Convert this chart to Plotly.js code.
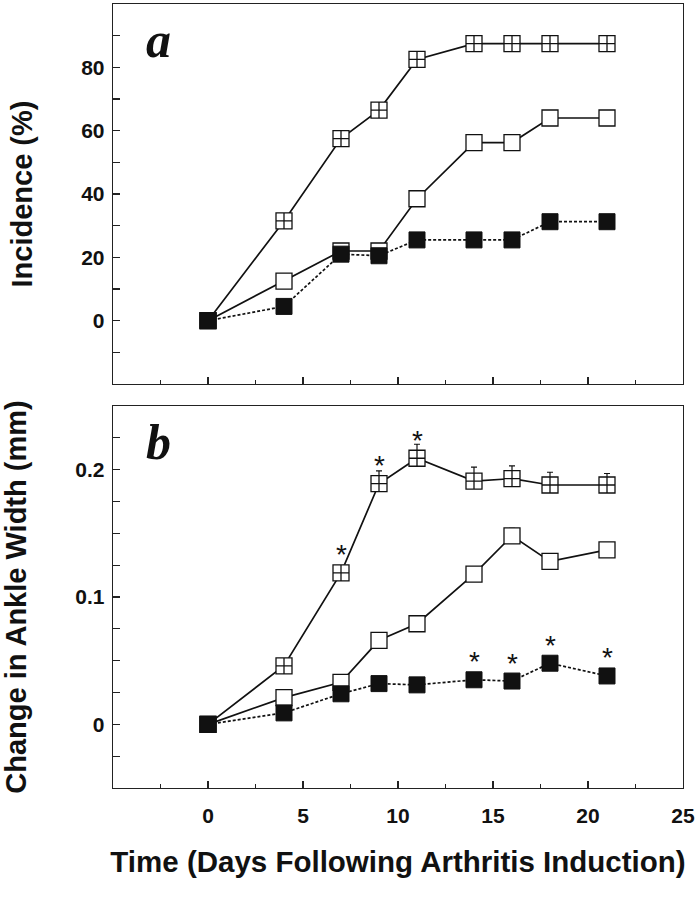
<!DOCTYPE html>
<html>
<head>
<meta charset="utf-8">
<script src="https://cdn.plot.ly/plotly-3.0.1.min.js"></script>
<style>html,body{margin:0;padding:0;background:#fff;}#chart{width:695px;height:899px;}</style>
</head>
<body>
<div id="chart"></div>
<script>
// ---- data ----
var days = [0, 4, 7, 9, 11, 14, 16, 18, 21];

// panel a: incidence (%)
var incCross  = [0, 31.5, 57.5, 66.5, 82.5, 87.5, 87.5, 87.5, 87.5];
var incOpen   = [0, 12.5, 22, 22, 38.5, 56.25, 56.25, 64, 64];
var incFilled = [0, 4.5, 21, 20.5, 25.5, 25.5, 25.5, 31.25, 31.25];

// panel b: change in ankle width (mm)
var ankCross     = [0, 0.046, 0.119, 0.189, 0.209, 0.191, 0.193, 0.188, 0.188];
var ankCrossErr  = [0, 0, 0.003, 0.010, 0.011, 0.011, 0.010, 0.010, 0.009];
var ankOpen      = [0, 0.021, 0.033, 0.066, 0.079, 0.118, 0.148, 0.128, 0.137];
var ankOpenErr   = [0, 0, 0, 0, 0, 0, 0.006, 0.002, 0.003];
var ankFilled    = [0, 0.009, 0.024, 0.032, 0.031, 0.035, 0.034, 0.048, 0.038];
var sigCross     = [0, 0, 1, 1, 1, 0, 0, 0, 0];
var sigFilled    = [0, 0, 0, 0, 0, 1, 1, 1, 1];

var xTickVals = [0, 5, 10, 15, 20, 25];
var xTickText = ['0', '5', '10', '15', '20', '25'];
var aTickVals = [0, 20, 40, 60, 80];
var bTickVals = [0, 0.1, 0.2];
var bTickText = ['0', '0.1', '0.2'];

// ---- styles ----
var INK = '#111';
var FONT = 'Arial, "Liberation Sans", Helvetica, sans-serif';
var MS = 16;

function crossTrace(y, xa, ya, err) {
  var t = {x: days, y: y, xaxis: xa, yaxis: ya, mode: 'lines+markers', type: 'scatter',
    line: {color: INK, width: 1.7},
    marker: {symbol: 'square-cross', size: MS, color: '#fff', line: {color: INK, width: 1.3}},
    hoverinfo: 'skip', showlegend: false};
  if (err) t.error_y = {type: 'data', symmetric: false, array: err, arrayminus: days.map(function(){return 0;}), color: INK, thickness: 1.2, width: 3};
  return t;
}
function openTrace(y, xa, ya, err) {
  var t = {x: days, y: y, xaxis: xa, yaxis: ya, mode: 'lines+markers', type: 'scatter',
    line: {color: INK, width: 1.7},
    marker: {symbol: 'square', size: MS, color: '#fff', line: {color: INK, width: 1.3}},
    hoverinfo: 'skip', showlegend: false};
  if (err) t.error_y = {type: 'data', symmetric: false, array: err, arrayminus: days.map(function(){return 0;}), color: INK, thickness: 1.2, width: 3};
  return t;
}
function filledTrace(y, xa, ya) {
  return {x: days, y: y, xaxis: xa, yaxis: ya, mode: 'lines+markers', type: 'scatter',
    line: {color: INK, width: 1.7, dash: '3px,2px'},
    marker: {symbol: 'square', size: MS, color: INK, line: {color: INK, width: 1}},
    hoverinfo: 'skip', showlegend: false};
}

var data = [
  crossTrace(incCross, 'x', 'y'),
  openTrace(incOpen, 'x', 'y'),
  filledTrace(incFilled, 'x', 'y'),
  crossTrace(ankCross, 'x2', 'y2', ankCrossErr),
  openTrace(ankOpen, 'x2', 'y2', ankOpenErr),
  filledTrace(ankFilled, 'x2', 'y2')
];

// significance asterisks
var annotations = [];
var starFont = {family: FONT, size: 28, color: INK};
days.forEach(function(d, i) {
  if (sigCross[i]) annotations.push({x: d, y: ankCross[i], xref: 'x2', yref: 'y2', text: '*', showarrow: false,
    yanchor: 'middle', yshift: 18, font: starFont});
  if (sigFilled[i]) annotations.push({x: d, y: ankFilled[i], xref: 'x2', yref: 'y2', text: '*', showarrow: false,
    yanchor: 'middle', yshift: 18, font: starFont});
});
// panel letters
annotations.push({xref: 'x domain', yref: 'y domain', x: 0.055, y: 0.985, xanchor: 'left', yanchor: 'top',
  text: '<b><i>a</i></b>', showarrow: false, font: {family: '"Liberation Serif", "Times New Roman", serif', size: 50, color: INK}});
annotations.push({xref: 'x2 domain', yref: 'y2 domain', x: 0.055, y: 0.985, xanchor: 'left', yanchor: 'top',
  text: '<b><i>b</i></b>', showarrow: false, font: {family: '"Liberation Serif", "Times New Roman", serif', size: 50, color: INK}});

var axisCommon = {showline: true, linecolor: '#222', linewidth: 1.3, mirror: true, showgrid: false, zeroline: false,
  ticks: 'inside', tickcolor: '#222', tickwidth: 1.2, ticklen: 7,
  tickfont: {family: FONT, size: 21, color: INK, weight: 'bold'}};

function merge(a, b) { var o = {}; for (var k in a) o[k] = a[k]; for (var k2 in b) o[k2] = b[k2]; return o; }

var layout = {
  width: 695, height: 899,
  margin: {l: 113, r: 12, t: 4, b: 111},
  paper_bgcolor: '#fff', plot_bgcolor: '#fff',
  font: {family: FONT, color: INK},
  xaxis: merge(axisCommon, {range: [-5, 25], anchor: 'y', domain: [0, 1],
    tickmode: 'array', tickvals: xTickVals, ticktext: xTickText, showticklabels: false,
    minor: {tickmode: 'linear', tick0: 0, dtick: 2.5, ticks: 'inside', ticklen: 4, tickcolor: '#222', tickwidth: 1.2}}),
  yaxis: merge(axisCommon, {range: [-20, 100], anchor: 'x', domain: [0.5153, 1],
    tickmode: 'array', tickvals: aTickVals, ticklabelstandoff: 3,
    minor: {tickmode: 'linear', tick0: 0, dtick: 10, ticks: 'inside', ticklen: 7, tickcolor: '#222', tickwidth: 1.2},
    title: {text: 'Incidence (%)', font: {family: FONT, size: 29, color: INK, weight: 'bold'}, standoff: 40}}),
  xaxis2: merge(axisCommon, {range: [-5, 25], anchor: 'y2', domain: [0, 1],
    tickmode: 'array', tickvals: xTickVals, ticktext: xTickText, ticklabelstandoff: 8,
    minor: {tickmode: 'linear', tick0: 0, dtick: 2.5, ticks: 'inside', ticklen: 4, tickcolor: '#222', tickwidth: 1.2},
    title: {text: 'Time (Days Following Arthritis Induction)', font: {family: FONT, size: 29.5, color: INK, weight: 'bold'}, standoff: 25}}),
  yaxis2: merge(axisCommon, {range: [-0.05, 0.25], anchor: 'x2', domain: [0, 0.4872],
    tickmode: 'array', tickvals: bTickVals, ticktext: bTickText, ticklabelstandoff: 3,
    minor: {tickmode: 'linear', tick0: 0, dtick: 0.025, ticks: 'inside', ticklen: 7, tickcolor: '#222', tickwidth: 1.2},
    title: {text: 'Change in Ankle Width (mm)', font: {family: FONT, size: 29, color: INK, weight: 'bold'}, standoff: 40}}),
  annotations: annotations
};

Plotly.newPlot('chart', data, layout, {staticPlot: true, displayModeBar: false});
</script>
</body>
</html>
